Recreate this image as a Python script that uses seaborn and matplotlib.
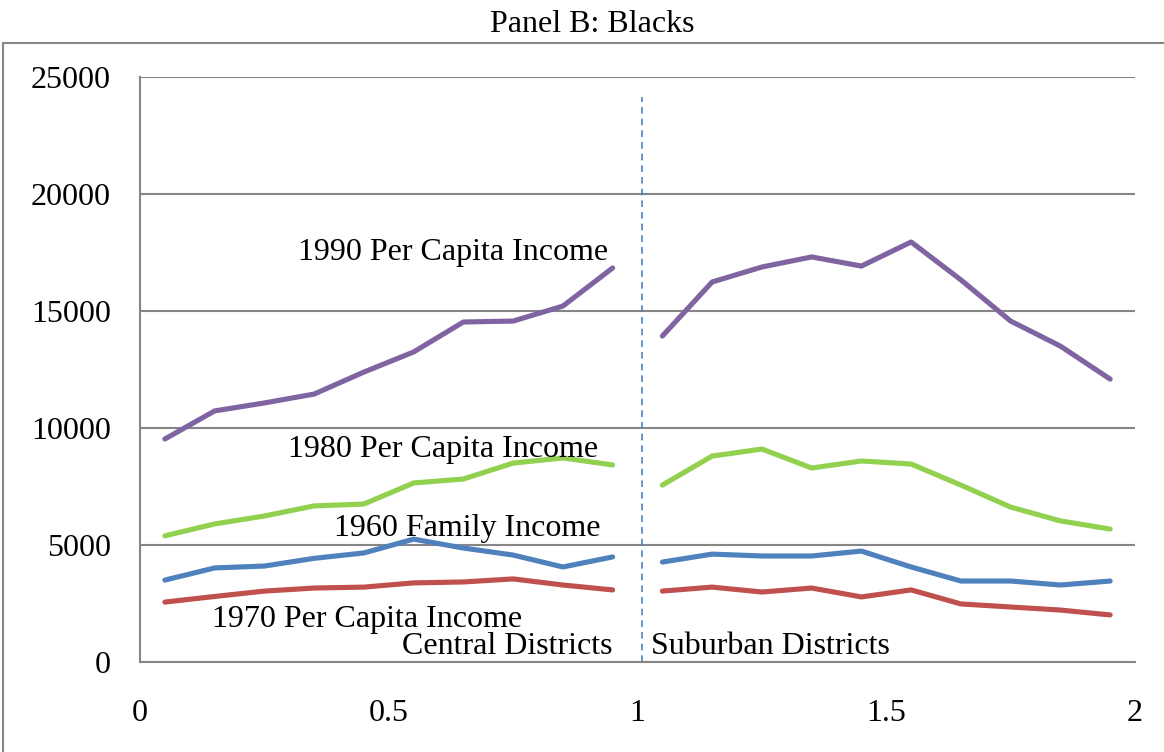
import pandas as pd
import numpy as np
import matplotlib
matplotlib.use("Agg")
import matplotlib.pyplot as plt
import seaborn as sns
from matplotlib.patches import Rectangle

# district positions (share of distance), central then suburban
central_x = [0.05, 0.15, 0.25, 0.35, 0.45, 0.55, 0.65, 0.75, 0.85, 0.95]
suburban_x = [1.05, 1.15, 1.25, 1.35, 1.45, 1.55, 1.65, 1.75, 1.85, 1.95]

inc1990_central = [9530, 10730, 11070, 11450, 12390, 13250, 14530, 14570, 15210, 16840]
inc1990_suburban = [13930, 16240, 16880, 17310, 16920, 17950, 16330, 14570, 13500, 12090]
inc1980_central = [5390, 5900, 6240, 6670, 6750, 7650, 7820, 8500, 8720, 8420]
inc1980_suburban = [7560, 8800, 9100, 8290, 8590, 8460, 7560, 6620, 6030, 5680]
fam1960_central = [3500, 4020, 4100, 4430, 4660, 5250, 4870, 4570, 4060, 4490]
fam1960_suburban = [4270, 4610, 4530, 4530, 4740, 4060, 3460, 3460, 3290, 3460]
inc1970_central = [2560, 2800, 3030, 3160, 3200, 3380, 3420, 3550, 3290, 3080]
inc1970_suburban = [3030, 3200, 2990, 3160, 2780, 3080, 2480, 2350, 2220, 2010]

series_names = ["1990 Per Capita Income", "1980 Per Capita Income",
                "1960 Family Income", "1970 Per Capita Income"]
colors = ["#8064A2", "#92D050", "#4F81BD", "#C0504D"]
divider_x = 1.01

# build long table, one segment per side so the line breaks at the divider
rows = []
pairs = [(inc1990_central, inc1990_suburban), (inc1980_central, inc1980_suburban),
         (fam1960_central, fam1960_suburban), (inc1970_central, inc1970_suburban)]
for name, (c, s) in zip(series_names, pairs):
    for x, v in zip(central_x, c):
        rows.append({"x": x, "value": v, "series": name, "seg": name + " c"})
    for x, v in zip(suburban_x, s):
        rows.append({"x": x, "value": v, "series": name, "seg": name + " s"})
df = pd.DataFrame(rows)

sns.set_style("white")
plt.rcParams['font.family'] = ['Liberation Serif', 'DejaVu Serif']

fig = plt.figure(figsize=(11.64, 7.52), dpi=100)
ax = fig.add_axes([0.1203, 0.1197, 0.8548, 0.7779])

sns.lineplot(data=df, x="x", y="value", hue="series", units="seg", estimator=None,
             palette=dict(zip(series_names, colors)), hue_order=series_names,
             linewidth=3.7, legend=False, ax=ax, zorder=3)

ax.axvline(divider_x, ymin=0, ymax=0.966, color="#4F81BD", linestyle=(0, (4, 3)),
           linewidth=1.2, zorder=2)

ax.set_xlim(0, 2)
ax.set_ylim(0, 25000)
ax.set_yticks([0, 5000, 10000, 15000, 20000, 25000])
ax.set_xticks([0, 0.5, 1, 1.5, 2])
ax.set_xticklabels(["0", "0.5", "1", "1.5", "2"])
ax.yaxis.grid(True, color="#868686", linewidth=1.5)
ax.xaxis.grid(False)
for side in ["top", "right"]:
    ax.spines[side].set_visible(False)
for side in ["left", "bottom"]:
    ax.spines[side].set_color("#868686")
    ax.spines[side].set_linewidth(1.5)
ax.tick_params(axis="x", direction="in", length=6, width=1.5, color="#868686",
               labelsize=23, pad=27, labelcolor="black")
ax.tick_params(axis="y", length=0, labelsize=23, pad=21, labelcolor="black")
ax.set_xlabel("")
ax.set_ylabel("")

lab = dict(fontsize=23, ha="center", va="center", color="black", zorder=4)
ax.text(0.629, 17480, "1990 Per Capita Income", **lab)
ax.text(0.609, 9070, "1980 Per Capita Income", **lab)
ax.text(0.657, 5690, "1960 Family Income", **lab)
ax.text(0.456, 1800, "1970 Per Capita Income", **lab)
ax.text(0.738, 650, "Central Districts", **lab)
ax.text(1.268, 650, "Suburban Districts", **lab)

fig.text(592 / 1164, 1 - 25 / 752, "Panel B: Blacks", fontsize=23, ha="center", va="center",
         color="black")
fig.patches.append(Rectangle((3 / 1164, -0.01), 1.0, 1 - 43 / 752 + 0.01,
                             transform=fig.transFigure, fill=False,
                             edgecolor="#868686", linewidth=1.5))

fig.savefig("out.png", dpi=100)
